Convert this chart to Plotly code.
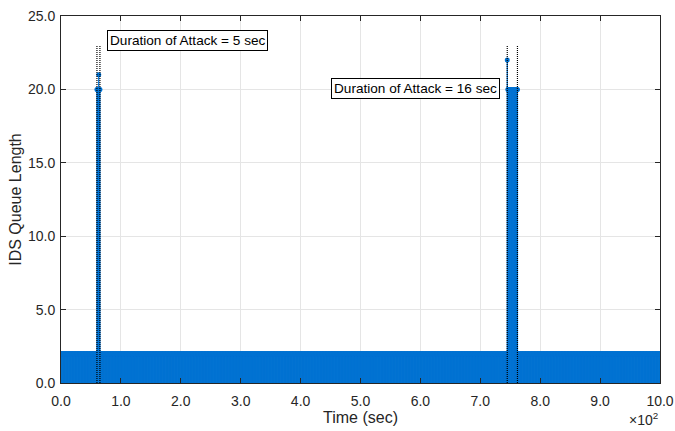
import plotly.graph_objects as go

# ---- data ----
t_start, t_end, t_step = 0, 1000, 1
baseline_queue = 2
attack1_times = [60, 61, 62, 63, 64, 65]
attack1_queue = [20, 20, 20, 21, 20, 20]
attack2_times = list(range(745, 763))
attack2_queue = [22] + [20] * 17
attack_marker_times = [60, 65, 745, 762]
attack_marker_height = 23
x_tick_vals = [0, 100, 200, 300, 400, 500, 600, 700, 800, 900, 1000]
x_tick_text = ["0.0", "1.0", "2.0", "3.0", "4.0", "5.0", "6.0", "7.0", "8.0", "9.0", "10.0"]
y_tick_vals = [0, 5, 10, 15, 20, 25]
y_tick_text = ["0.0", "5.0", "10.0", "15.0", "20.0", "25.0"]
labels = [
    ("Duration of Attack = 5 sec", 212, 23.3),
    ("Duration of Attack = 16 sec", 592, 20.05),
]

# build the series
queue = {t: baseline_queue for t in range(t_start, t_end + 1, t_step)}
for tt, q in zip(attack1_times, attack1_queue):
    queue[tt] = q
for tt, q in zip(attack2_times, attack2_queue):
    queue[tt] = q
times = sorted(queue)
values = [queue[t] for t in times]

blue = "#0072D2"
sx, sy = [], []
for t, v in zip(times, values):
    sx += [t, t, None]
    sy += [0, v, None]

fig = go.Figure()
fig.add_trace(go.Scatter(x=sx, y=sy, mode="lines", line=dict(color=blue, width=1.3),
                         hoverinfo="skip", showlegend=False))
fig.add_trace(go.Scatter(x=times, y=values, mode="markers",
                         marker=dict(color=blue, size=5, line=dict(width=0)),
                         showlegend=False))
dx, dy = [], []
for t in attack_marker_times:
    dx += [t, t, None]
    dy += [0, attack_marker_height, None]
fig.add_trace(go.Scatter(x=dx, y=dy, mode="lines",
                         line=dict(color="black", width=1.2, dash="1px,1px"),
                         showlegend=False))

for txt, x, y in labels:
    fig.add_annotation(x=x, y=y, xref="x", yref="y", text=txt, showarrow=False,
                       font=dict(family="Liberation Sans, Arial", size=13.6, color="black"),
                       bgcolor="white", bordercolor="black", borderwidth=1, borderpad=2)

fig.add_annotation(x=0.972, y=-0.07, xref="paper", yref="paper", xanchor="center", yanchor="top",
                   text="×10<sup>2</sup>", showarrow=False, borderpad=0,
                   font=dict(family="Liberation Sans, Arial", size=14, color="#262626"))

axis_common = dict(showline=True, linecolor="#262626", linewidth=1, mirror="ticks",
                   ticks="inside", ticklen=5, tickcolor="#262626", automargin=False,
                   showgrid=True, gridcolor="#E5E5E5", gridwidth=1, zeroline=False,
                   tickfont=dict(family="Liberation Sans, Arial", size=14, color="#262626"))

fig.update_xaxes(range=[0, 1000], tickvals=x_tick_vals, ticktext=x_tick_text,
                 ticklabelstandoff=5,
                 title=dict(text="Time (sec)", standoff=2,
                            font=dict(family="Liberation Sans, Arial", size=16, color="#262626")),
                 **axis_common)
fig.update_yaxes(range=[0, 25], tickvals=y_tick_vals, ticktext=y_tick_text,
                 ticklabelstandoff=2,
                 title=dict(text="IDS Queue Length", standoff=2,
                            font=dict(family="Liberation Sans, Arial", size=16, color="#262626")),
                 **axis_common)

fig.update_layout(width=675, height=431, margin=dict(l=61, r=15, t=16, b=48),
                  plot_bgcolor="white", paper_bgcolor="white")

fig.write_html("out.html")
